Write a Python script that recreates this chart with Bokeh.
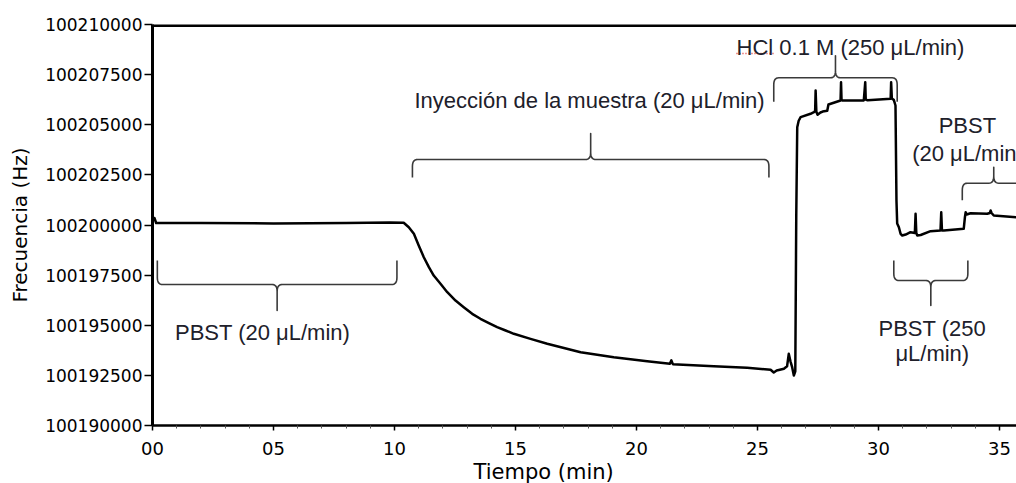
import numpy as np
from bokeh.plotting import figure
from bokeh.models import FixedTicker, Label, Span, Range1d, Title
from bokeh.embed import file_html
from bokeh.resources import INLINE

# ---------------- data ----------------
time_min = [0.00, 0.08, 0.15, 0.30, 2.0, 5.0, 8.0, 9.8, 10.38, 10.59, 10.80, 11.00,
            11.21, 11.42, 11.62, 11.90, 12.18, 12.52, 12.86, 13.21, 13.55, 13.90,
            14.24, 14.59, 14.93, 15.62, 16.31, 17.69, 19.06, 20.44, 21.38,
            21.44, 21.50, 23.19, 24.57, 25.54, 25.67, 25.79, 26.09, 26.22, 26.29,
            26.36, 26.43, 26.50, 26.56, 26.60, 26.64, 26.70, 26.78, 27.19, 27.33,
            27.38, 27.40, 27.43, 27.48, 27.60, 27.69, 27.88, 27.93, 28.43, 28.45,
            28.47, 28.51, 29.39, 29.45, 29.47, 29.55, 30.50, 30.52, 30.55, 30.63,
            30.70, 30.74, 30.77, 30.84, 30.91, 30.98, 31.12, 31.32, 31.50, 31.53,
            31.56, 31.60, 31.74, 32.15, 32.56, 32.59, 32.62, 32.70, 33.52, 33.57,
            33.60, 33.64, 33.80, 34.49, 34.60, 34.63, 34.67, 34.76, 35.70]
freq_hz = [100200350, 100200350, 100200100, 100200100, 100200100, 100200080, 100200100,
           100200130, 100200110, 100199891, 100199561, 100198978, 100198394, 100197897,
           100197481, 100197066, 100196648, 100196234, 100195900, 100195569, 100195322,
           100195104, 100194903, 100194738, 100194574, 100194322, 100194075, 100193656,
           100193406, 100193207, 100193077, 100193250, 100193060, 100192958, 100192878,
           100192778, 100192643, 100192743, 100192828, 100192950, 100193576, 100193200,
           100192908, 100192494, 100192700, 100200500, 100204878, 100205200, 100205377,
           100205546, 100205626, 100205700, 100206708, 100205650, 100205500, 100205611,
           100205660, 100205700, 100206010, 100206209, 100207122, 100206250, 100206209,
           100206209, 100207122, 100206260, 100206220, 100206294, 100207122, 100206300,
           100206244, 100205960, 100201222, 100200075, 100199890, 100199561, 100199476,
           100199526, 100199641, 100199600, 100200558, 100199600, 100199476, 100199500,
           100199691, 100199726, 100200638, 100199726, 100199726, 100199810, 100200400,
           100200638, 100200524, 100200589, 100200558, 100200600, 100200723, 100200600,
           100200474, 100200389]

x_ticks = [0, 5, 10, 15, 20, 25, 30, 35]
x_tick_labels = ["00", "05", "10", "15", "20", "25", "30", "35"]
x_minor_ticks = [1, 2, 3, 4, 6, 7, 8, 9, 11, 12, 13, 14, 16, 17, 18, 19, 21, 22, 23, 24,
                 26, 27, 28, 29, 31, 32, 33, 34]
y_ticks = [100190000, 100192500, 100195000, 100197500, 100200000,
           100202500, 100205000, 100207500, 100210000]
y_tick_labels = ["100190000", "100192500", "100195000", "100197500", "100200000",
                 "100202500", "100205000", "100207500", "100210000"]

# brace annotations (time span and level in Hz)
brace_start = [0.20, 10.74, 25.67, 30.63, 33.46]
brace_end = [10.10, 25.47, 30.77, 33.69, 36.06]
brace_level = [100197032, 100203267, 100207342, 100197232, 100202085]
brace_tip = ["down", "up", "up", "down", "up"]
brace_end_px = [24, 18, 24, 20, 17]
brace_tip_px = [26, 26, 22, 25, 16]

label_texts = ["PBST (20 μL/min)", "Inyección de la muestra (20 μL/min)",
               "HCl 0.1 M (250 μL/min)", "PBST", "(20 μL/min)", "PBST (250", "μL/min)"]
label_x = [4.55, 18.06, 28.84, 33.67, 31.39, 32.22, 32.22]
label_y = [100194653, 100206209, 100208868, 100204963, 100203566, 100194823, 100193576]
label_align = ["center", "center", "center", "center", "left", "center", "center"]

X_START, X_END = 0, 35.70
Y_START, Y_END = 100190000, 100210000

# ---------------- figure ----------------
p = figure(width=1016, height=483, output_backend="svg", toolbar_location=None,
           x_range=Range1d(X_START, X_END), y_range=Range1d(Y_START, Y_END),
           min_border_left=152, min_border_right=0, min_border_top=24,
           min_border_bottom=58)
p.outline_line_color = None
p.xgrid.visible = False
p.ygrid.visible = False
p.background_fill_color = "white"
p.border_fill_color = "white"

frame_w = 1016 - 152
frame_h = 425 - 24
ppm = frame_w / (X_END - X_START)      # px per minute
hpp = (Y_END - Y_START) / frame_h      # Hz per px

# x axis
p.xaxis.ticker = FixedTicker(ticks=x_ticks, minor_ticks=x_minor_ticks)
p.xaxis.major_label_overrides = {t: l for t, l in zip(x_ticks, x_tick_labels)}
p.xaxis.axis_line_width = 2.5
p.xaxis.axis_line_color = "black"
p.xaxis.major_tick_line_color = "black"
p.xaxis.major_tick_line_width = 1.5
p.xaxis.major_tick_in = 0
p.xaxis.major_tick_out = 5
p.xaxis.minor_tick_in = 0
p.xaxis.minor_tick_out = 3
p.xaxis.minor_tick_line_color = "#555555"
p.xaxis.major_label_text_font = "DejaVu Sans"
p.xaxis.major_label_text_font_size = "18px"
p.xaxis.major_label_text_color = "black"
p.xaxis.major_label_standoff = 11

# y axis
p.yaxis.ticker = FixedTicker(ticks=y_ticks, minor_ticks=[])
p.yaxis.major_label_overrides = {t: l for t, l in zip(y_ticks, y_tick_labels)}
p.yaxis.axis_line_width = 3
p.yaxis.axis_line_color = "black"
p.yaxis.major_tick_line_color = "black"
p.yaxis.major_tick_line_width = 1.5
p.yaxis.major_tick_in = 0
p.yaxis.major_tick_out = 8
p.yaxis.minor_tick_line_color = None
p.yaxis.major_label_text_font = "DejaVu Sans"
p.yaxis.major_label_text_font_size = "17px"
p.yaxis.major_label_text_color = "black"
p.yaxis.major_label_standoff = 2
p.yaxis.axis_label = "Frecuencia (Hz)"
p.yaxis.axis_label_text_font = "DejaVu Sans"
p.yaxis.axis_label_text_font_size = "20px"
p.yaxis.axis_label_text_font_style = "normal"
p.yaxis.axis_label_text_color = "black"
p.yaxis.axis_label_standoff = 10

# x axis title (shifted left, as in the original)
p.add_layout(Title(text="Tiempo (min)", align="left", offset=321, standoff=0,
                   text_font="DejaVu Sans", text_font_size="21px",
                   text_font_style="normal", text_color="black"), "below")

# top border line
p.add_layout(Span(location=Y_END, dimension="width", line_color="black", line_width=5))

# trace
p.line(time_min, freq_hz, line_color="black", line_width=2.5, line_join="round")


# braces
def quad(p0, p1, p2, n=8):
    t = np.linspace(0, 1, n)[:, None]
    p0, p1, p2 = np.array(p0), np.array(p1), np.array(p2)
    return list((1 - t) ** 2 * p0 + 2 * (1 - t) * t * p1 + t ** 2 * p2)


def brace(x0, x1, yl, end_px, tip_px, s):
    rx = 5 / ppm
    ry = 7 * hpp
    end = end_px * hpp
    tip = tip_px * hpp
    xm = (x0 + x1) / 2
    pts = [np.array([x0, yl - s * end])]
    pts += quad([x0, yl - s * ry], [x0, yl], [x0 + rx, yl])
    pts += quad([xm - rx, yl], [xm, yl], [xm, yl + s * ry])
    pts += [np.array([xm, yl + s * tip])]
    pts += quad([xm, yl + s * ry], [xm, yl], [xm + rx, yl])
    pts += quad([x1 - rx, yl], [x1, yl], [x1, yl - s * ry])
    pts += [np.array([x1, yl - s * end])]
    arr = np.array(pts)
    return arr[:, 0], arr[:, 1]


for x0, x1, yl, tp, ep, tpx in zip(brace_start, brace_end, brace_level, brace_tip,
                                   brace_end_px, brace_tip_px):
    s = 1 if tp == "up" else -1
    bx, by = brace(x0, x1, yl, ep, tpx, s)
    p.line(bx, by, line_color="#3a3a3a", line_width=1.6, line_join="round")

# labels
for txt, lx, ly, al in zip(label_texts, label_x, label_y, label_align):
    p.add_layout(Label(x=lx, y=ly, text=txt, text_align=al, text_baseline="middle",
                       text_font="Liberation Sans", text_font_size="22px",
                       text_color="#20202a"))

# spell-check squiggle under "HCl"
p.line([24.13, 25.67], [100208553, 100208553], line_color="#e03030", line_width=1.5,
       line_dash="1 2")

open("out.html", "w").write(file_html(p, INLINE))
